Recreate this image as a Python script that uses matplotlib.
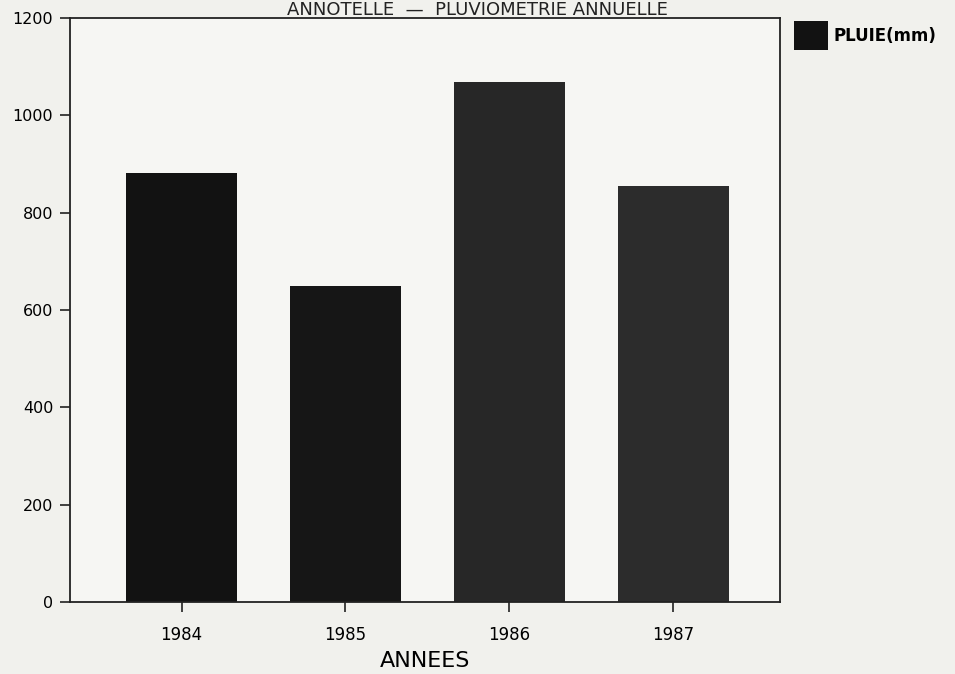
import matplotlib.pyplot as plt
import numpy as np

annees = ['1984', '1985', '1986', '1987']
pluie = [881, 649, 1068, 855]
couleurs = ['#121212', '#161616', '#272727', '#2c2c2c']

fig = plt.figure(figsize=(9.55, 6.74), dpi=100, facecolor='#f1f1ed')
ax = fig.add_axes([70/955, 1 - 602/674, 710/955, 584/674], facecolor='#f6f6f3')

x = np.arange(len(annees))
ax.bar(x, pluie, width=0.68, color=couleurs, label='PLUIE(mm)')

ax.set_xlim(-0.68, 3.65)
ax.set_ylim(0, 1200)
ax.set_yticks([0, 200, 400, 600, 800, 1000, 1200])
ax.set_xticks(x)
ax.set_xticklabels(annees, fontsize=12)
ax.tick_params(axis='y', labelsize=11.5)
ax.tick_params(axis='both', length=7, width=1.2, color='#222222')
ax.tick_params(axis='x', pad=10)
ax.tick_params(axis='y', pad=5)
for s in ax.spines.values():
    s.set_color('#222222')
    s.set_linewidth(1.3)

ax.set_xlabel('ANNEES', fontsize=16, labelpad=5)

# titre, tout en haut au-dessus du cadre
fig.text(0.5, 1 - 15/674, 'ANNOTELLE  —  PLUVIOMETRIE ANNUELLE', ha='center',
         va='baseline', fontsize=13, color='#222222')

ax.legend(loc='upper left', bbox_to_anchor=(0.999, 1.02), frameon=False,
          handlelength=2.0, handleheight=2.3, handletextpad=0.35,
          prop={'weight': 'bold', 'size': 12})

fig.savefig('out.png', dpi=100, facecolor=fig.get_facecolor())
